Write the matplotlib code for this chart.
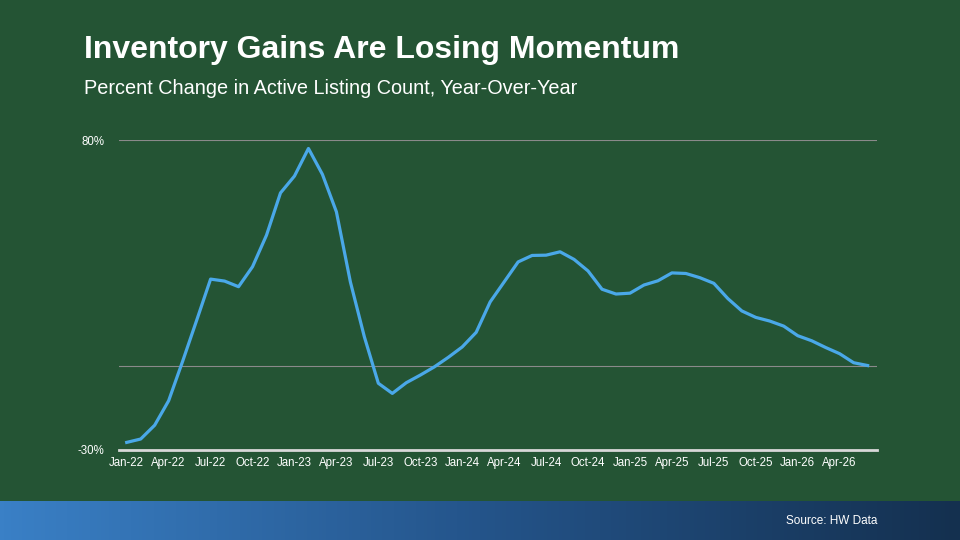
import numpy as np
import matplotlib.pyplot as plt
from matplotlib.colors import LinearSegmentedColormap

plt.rcParams["font.family"] = ["Liberation Sans", "DejaVu Sans"]

# monthly YoY change in active listings, Jan-22 .. May-26
values = [
    -27.3, -26.1, -21.2, -12.5, 1.5, 16.0, 30.7, 30.0, 28.0, 35.1, 46.3, 61.3,
    67.3, 77.1, 67.9, 54.6, 29.7, 10.2, -6.3, -9.9, -6.1, -3.4, -0.5, 2.9,
    6.6, 11.8, 22.6, 29.7, 36.8, 39.1, 39.2, 40.4, 37.7, 33.6, 27.1, 25.4,
    25.7, 28.6, 30.1, 32.9, 32.7, 31.2, 29.2, 23.8, 19.4, 17.1, 15.8, 14.0,
    10.6, 8.8, 6.4, 4.2, 1.0, 0.0,
]
tick_labels = ["Jan-22", "Apr-22", "Jul-22", "Oct-22", "Jan-23", "Apr-23", "Jul-23",
               "Oct-23", "Jan-24", "Apr-24", "Jul-24", "Oct-24", "Jan-25", "Apr-25",
               "Jul-25", "Oct-25", "Jan-26", "Apr-26"]
y_labels = ["-30%", "80%"]
y_ticks = [-30, 80]

BG = "#245434"
LINE = "#4aa8e8"

fig = plt.figure(figsize=(9.6, 5.4), dpi=100, facecolor=BG)

# footer band with blue gradient
foot = fig.add_axes([0, 0, 1, 39 / 540])
grad = LinearSegmentedColormap.from_list("foot", ["#3a80c6", "#24548a", "#14304f"])
foot.imshow(np.linspace(0, 1, 256).reshape(1, -1), aspect="auto", cmap=grad, extent=[0, 1, 0, 1])
foot.set_axis_off()
foot.text(877 / 960, 0.5, "Source: HW Data", color="white", fontsize=8.5,
          ha="right", va="center", transform=foot.transAxes)

fig.text(84 / 960, 1 - 50 / 540, "Inventory Gains Are Losing Momentum", color="white",
         fontsize=23, fontweight="bold", ha="left", va="center")
fig.text(84 / 960, 1 - 89 / 540, "Percent Change in Active Listing Count, Year-Over-Year",
         color="white", fontsize=14.3, ha="left", va="center")

ax = fig.add_axes([119.3 / 960, 90 / 540, 757.4 / 960, 309.7 / 540])
ax.set_facecolor("none")
x = np.arange(len(values))
ax.plot(x, values, color=LINE, lw=2.3, solid_joinstyle="round", zorder=3)

ax.axhline(80, color="#8a8a8a", lw=0.8, zorder=1)
ax.axhline(0, color="#8a8a8a", lw=0.8, zorder=1)
ax.set_xlim(-0.53, 53.65)
ax.set_ylim(-30, 80)

for s in ["top", "right", "left"]:
    ax.spines[s].set_visible(False)
ax.spines["bottom"].set_color("#d8d8d8")
ax.spines["bottom"].set_linewidth(2)

ax.set_xticks(np.arange(0, len(values), 3))
ax.set_xticklabels(tick_labels, color="white", fontsize=8.3)
ax.set_yticks(y_ticks)
ax.set_yticklabels(y_labels, color="white", fontsize=8.3)
ax.tick_params(axis="both", length=0)
ax.tick_params(axis="x", pad=5)
ax.tick_params(axis="y", pad=11)

fig.savefig("out.png", dpi=100, facecolor=BG)
